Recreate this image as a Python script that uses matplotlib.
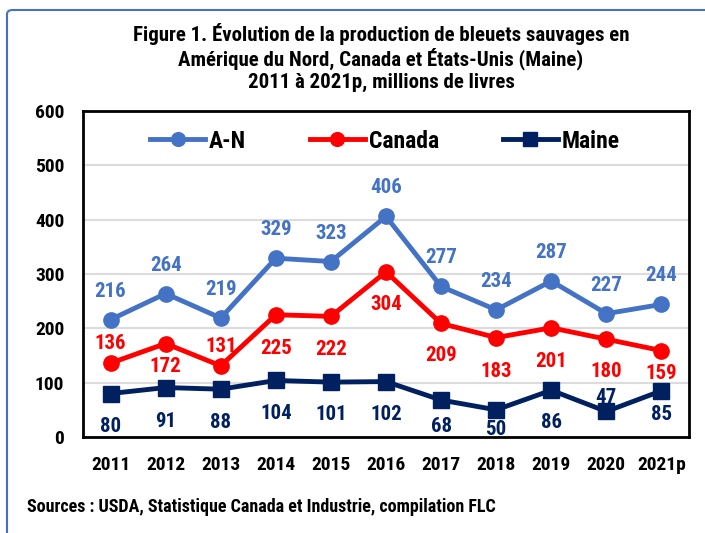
import matplotlib
matplotlib.use("Agg")
import matplotlib.pyplot as plt
from matplotlib.patches import FancyBboxPatch

years = ["2011", "2012", "2013", "2014", "2015", "2016", "2017", "2018", "2019", "2020", "2021p"]
an = [216, 264, 219, 329, 323, 406, 277, 234, 287, 227, 244]
canada = [136, 172, 131, 225, 222, 304, 209, 183, 201, 180, 159]
maine = [80, 91, 88, 104, 101, 102, 68, 50, 86, 47, 85]

# label baseline offsets (pixels, + = above point)
an_off = [23] * 11
ca_off = [14, -28, 14, -39, -39, -38, -38, -39, -39, -38, -28]
me_off = [-38, -39, -39, -39, -38, -38, -32, -25, -38, 8, -29]

plt.rcParams['font.family'] = ['Roboto Condensed', 'DejaVu Sans']
plt.rcParams['font.weight'] = 'bold'

C_AN = '#4472C4'
C_CA = '#FF0000'
C_ME = '#002060'

W, H = 705, 533
fig = plt.figure(figsize=(W / 100, H / 100), dpi=100)
frame = FancyBboxPatch((7 / W, -0.5), 1.5, 1.5 - 10 / H, boxstyle="round,pad=0,rounding_size=0.008",
                       transform=fig.transFigure, fill=False, edgecolor=C_AN, linewidth=1.5, clip_on=False)
fig.patches.append(frame)

ax = fig.add_axes([83 / W, (H - 437) / H, 606 / W, 326 / H])
x = list(range(len(years)))
ax.plot(x, an, color=C_AN, lw=3.5, marker='o', ms=11, label='A-N', zorder=3)
ax.plot(x, canada, color=C_CA, lw=3.5, marker='o', ms=11, label='Canada', zorder=3)
ax.plot(x, maine, color=C_ME, lw=3.5, marker='s', ms=11, label='Maine', zorder=3)

ax.set_xlim(-0.5, len(years) - 0.5)
ax.set_ylim(0, 600)
ax.set_yticks(range(0, 601, 100))
ax.set_xticks(x)
ax.set_xticklabels(years)
ax.tick_params(axis='both', length=0, labelsize=14)
ax.tick_params(axis='y', pad=13.5)
ax.tick_params(axis='x', pad=13.5)
for lbl in ax.get_xticklabels() + ax.get_yticklabels():
    lbl.set_fontweight('bold')
ax.grid(axis='y', color='#DCDCDC', lw=1.5)
ax.set_axisbelow(True)
for s in ax.spines.values():
    s.set_linewidth(2)
    s.set_color('black')

fs = 15
for vals, offs, col in [(an, an_off, C_AN), (canada, ca_off, C_CA), (maine, me_off, C_ME)]:
    for i, (v, o) in enumerate(zip(vals, offs)):
        ax.annotate(str(v), (i, v), xytext=(0, o), textcoords='offset pixels', ha='center',
                    va='baseline', color=col, fontsize=fs, fontweight='bold', zorder=4)

leg = ax.legend(loc='center left', bbox_to_anchor=((150 - 83) / 606, (437 - 141) / 326), ncol=3,
                frameon=False, prop={'size': 17, 'weight': 'bold'}, handlelength=2.33,
                columnspacing=2.7, handletextpad=0.17, borderpad=0, borderaxespad=0, markerscale=0.9)

title_lines = ["Figure 1. Évolution de la production de bleuets sauvages en",
               "Amérique du Nord, Canada et États-Unis (Maine)",
               "2011 à 2021p, millions de livres"]
for line, yb in zip(title_lines, [41, 65, 88]):
    fig.text(381 / W, 1 - yb / H, line, ha='center', va='baseline', fontsize=15, fontweight='bold')
fig.text(27 / W, 1 - 512 / H, "Sources : USDA, Statistique Canada et Industrie, compilation FLC",
         ha='left', va='baseline', fontsize=13, fontweight='bold')

fig.savefig('out.png', dpi=100)
